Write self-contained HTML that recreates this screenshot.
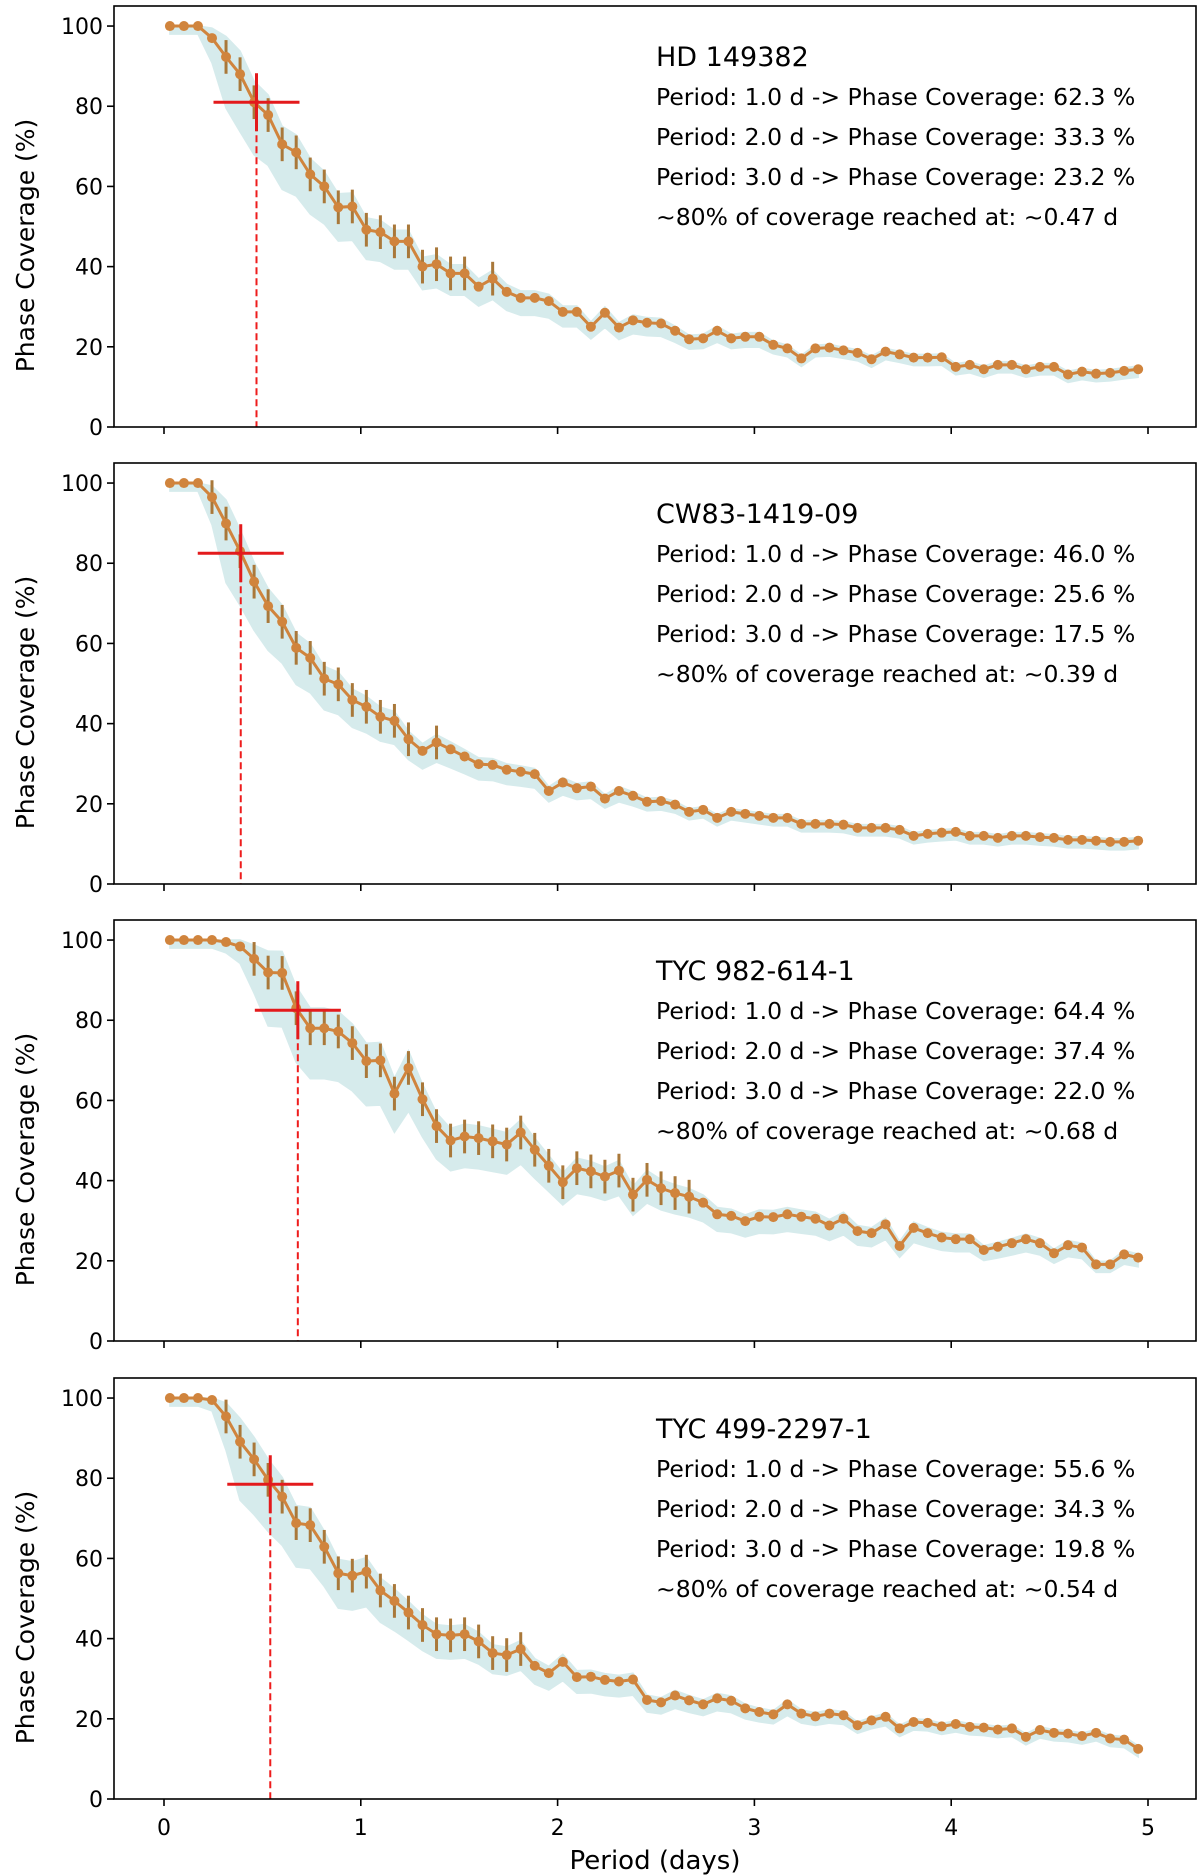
<!DOCTYPE html>
<html><head><meta charset="utf-8">
<style>
html,body{margin:0;padding:0;background:#fff;}
svg{display:block;font-family:"DejaVu Sans","Liberation Sans",sans-serif;}
</style></head>
<body>
<svg id="fig" width="1200" height="1875" viewBox="0 0 1200 1875" xmlns="http://www.w3.org/2000/svg"></svg>
<script>
const periods = [0.03, 4.95]; // first/last sampled period (days), 70 samples
const xTicks = [0,1,2,3,4,5];
const yTicks = [0,20,40,60,80,100];
const names = ["HD 149382","CW83-1419-09","TYC 982-614-1","TYC 499-2297-1"];
const cov1d = ["62.3","46.0","64.4","55.6"];
const cov2d = ["33.3","25.6","37.4","34.3"];
const cov3d = ["23.2","17.5","22.0","19.8"];
const reach80 = [0.47,0.39,0.68,0.54];
const reach80y = [81,82.5,82.5,78.5];
const series1 = [100,100,100,97,92.3,88,81,77.8,70.5,68.5,63,60,54.8,55,49.2,48.6,46.3,46.3,40,40.6,38.3,38.3,35,37,33.7,32.2,32.2,31.4,28.7,28.7,25,28.5,24.8,26.6,26.0,25.8,24.0,21.9,22.1,24.0,22.1,22.5,22.5,20.5,19.6,17.1,19.6,19.8,19.1,18.5,16.9,18.8,18.1,17.3,17.3,17.4,15.0,15.5,14.4,15.5,15.5,14.4,15.0,15.0,13.1,13.8,13.3,13.5,14.0,14.4];
const series2 = [100,100,100,96.5,89.9,83.0,75.4,69.3,65.4,58.9,56.4,51.2,49.8,45.9,44.2,41.7,40.7,36.1,33.2,35.3,33.6,31.8,29.9,29.7,28.5,28.0,27.4,23.2,25.3,23.9,24.3,21.3,23.2,22.0,20.5,20.7,19.8,18,18.5,16.5,18,17.5,17,16.5,16.5,15,15,15,14.8,14,14,14,13.5,12,12.5,12.8,13,12,12,11.5,12,12,11.7,11.5,11,11,10.8,10.5,10.5,10.8];
const series3 = [100,100,100,100,99.5,98.4,95.3,91.9,91.8,83.0,78,78,77.2,74.3,69.8,70,61.7,68.1,60.3,53.6,50,51,50.6,49.8,49,52,47.7,43.7,39.6,43.1,42.3,41,42.5,36.5,40.2,38.1,36.9,36.0,34.5,31.6,31.2,29.9,31.0,30.9,31.6,31.0,30.5,28.8,30.5,27.4,26.9,29.1,23.7,28.2,26.9,25.8,25.4,25.4,22.7,23.5,24.4,25.4,24.4,21.9,23.9,23.3,19.1,19.1,21.6,20.8];
const series4 = [100,100,100,99.5,95.4,89.1,84.7,79.6,75.4,68.8,68.3,62.9,56.3,55.7,56.7,52.0,49.4,46.5,43.4,41.1,40.8,41.1,39.3,36.4,35.9,37.4,33.2,31.4,34.2,30.4,30.5,29.7,29.3,29.8,24.7,24.1,25.8,24.6,23.6,25.1,24.5,22.6,21.7,21.1,23.6,21.3,20.6,21.3,20.9,18.4,19.6,20.5,17.6,19.2,19.0,18.1,18.7,18.0,17.8,17.3,17.6,15.5,17.2,16.5,16.3,15.7,16.5,15.1,14.8,12.5];
const allSeries = [series1,series2,series3,series4];

const NS = "http://www.w3.org/2000/svg";
const svg = document.getElementById('fig');
function mk(tag, attrs, parent){ const e=document.createElementNS(NS,tag); for(const k in attrs) e.setAttribute(k,attrs[k]); (parent||svg).appendChild(e); return e; }

const L=114, R=1196, panelTops=[6,463,920,1378], PH=421;
const x0=164, xPerDay=196.8;
function xs(d){ return x0 + d*xPerDay; }

allSeries.forEach((vals, p) => {
  const top = panelTops[p], bot = top+PH;
  const ys = v => bot - v*(PH/105);
  const n = vals.length;
  const px = i => periods[0] + i*(periods[1]-periods[0])/(n-1);
  const g = mk('g', {});
  
  

  // noise band
  let up=[], lo=[];
  vals.forEach((v,i)=>{
    const w = Math.max(1.0, Math.min((100-v)*0.7+1, (v-8)*0.09));
    up.push(xs(px(i))+','+ys(Math.min(100,v+w*0.8)));
    lo.unshift(xs(px(i))+','+ys(Math.max(0,v-2.0*w)));
  });
  const band = mk('polygon',{points:up.concat(lo).join(' '),fill:'#d6ebec',stroke:'#d6ebec','stroke-width':1.5},g);
  
  

  // error bars
  vals.forEach((v,i)=>{
    if(v>35 && v<97){
      const e = 4.2;
      const eb = mk('line',{x1:xs(px(i)),x2:xs(px(i)),y1:ys(v+e),y2:ys(v-e),stroke:'#a9783a','stroke-width':3},g);
      
      
    }
  });
  // line
  const line = mk('polyline',{points:vals.map((v,i)=>xs(px(i))+','+ys(v)).join(' '),fill:'none',stroke:'#d0843d','stroke-width':3},g);
  
  
  vals.forEach((v,i)=>{
    const c = mk('circle',{cx:xs(px(i)),cy:ys(v),r:5,fill:'#d0843d'},g);
    
    
  });

  // 80% marker
  const rx = xs(reach80[p]), ry = ys(reach80y[p]);
  const dl = mk('line',{x1:rx,x2:rx,y1:ry,y2:bot,stroke:'#ee1c1c','stroke-width':2,'stroke-dasharray':'7,4'},g);
  
  
  const hl = mk('line',{x1:rx-43,x2:rx+43,y1:ry,y2:ry,stroke:'#e31a1c','stroke-width':3},g);
  
  
  const vl = mk('line',{x1:rx,x2:rx,y1:ry-29,y2:ry+29,stroke:'#e31a1c','stroke-width':3},g);
  
  

  // frame
  const fr = mk('rect',{x:L,y:top,width:R-L,height:PH,fill:'none',stroke:'#000','stroke-width':1.6},g);
  
  

  yTicks.forEach(t=>{
    const tk = mk('line',{x1:L-7,x2:L,y1:ys(t),y2:ys(t),stroke:'#000','stroke-width':1.6},g);
    
    
    const tl = mk('text',{x:L-11,y:ys(t)+8,'text-anchor':'end','font-size':22,fill:'#000'},g);
    tl.textContent = t;
    
    
  });
  xTicks.forEach(t=>{
    const tk = mk('line',{x1:xs(t),x2:xs(t),y1:bot,y2:bot+7,stroke:'#000','stroke-width':1.6},g);
    
    
    if(p===3){
      const tl = mk('text',{x:xs(t),y:bot+36,'text-anchor':'middle','font-size':22,fill:'#000'},g);
      tl.textContent = t;
      
      
    }
  });
  const yl = mk('text',{x:0,y:0,transform:'translate(34,'+(top+PH/2+29)+') rotate(-90)','text-anchor':'middle','font-size':25,fill:'#000'},g);
  yl.textContent = 'Phase Coverage (%)';
  
  

  const tx = 656;
  const ti = mk('text',{x:tx,y:top+60,'font-size':27,fill:'#000'},g);
  ti.textContent = names[p];
  
  
  const lines = ['Period: 1.0 d -> Phase Coverage: '+cov1d[p]+' %','Period: 2.0 d -> Phase Coverage: '+cov2d[p]+' %','Period: 3.0 d -> Phase Coverage: '+cov3d[p]+' %','~80% of coverage reached at: ~'+reach80[p].toFixed(2)+' d'];
  lines.forEach((s,k)=>{
    const t = mk('text',{x:tx,y:top+99+k*40,'font-size':23.5,fill:'#000'},g);
    t.textContent = s;
    
    
  });
});
const xl = mk('text',{x:655,y:1869,'text-anchor':'middle','font-size':26,fill:'#000'});
xl.textContent = 'Period (days)';


</script>
</body></html>
